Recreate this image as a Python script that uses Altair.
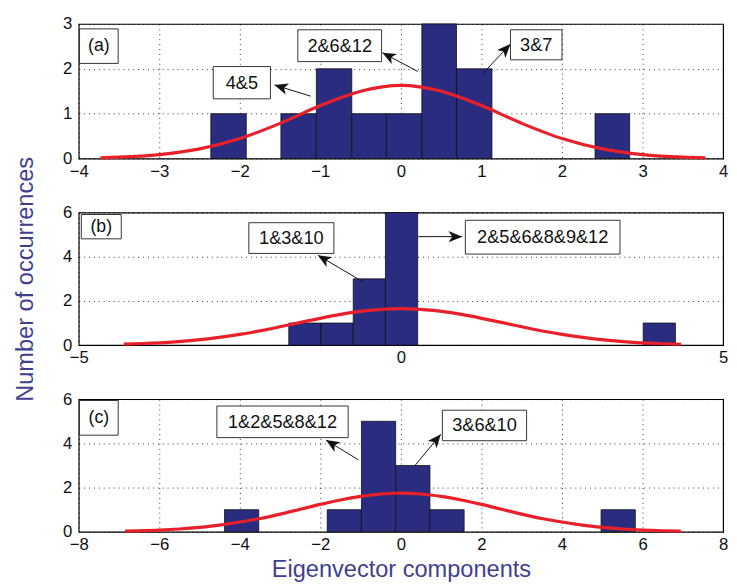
import math
import altair as alt
import pandas as pd

NAVY = "#2A2C80"
RED = "#E8202A"
TITLE_C = "#3F3F90"
FONT = "Liberation Sans"

W = 656
HA = 137
HB = 135

# ---------------- panel (a) ----------------
a_left = [-2.36, -1.49, -1.05, -0.61, -0.18, 0.26, 0.69, 2.41]
a_right = [-1.92, -1.05, -0.61, -0.18, 0.26, 0.69, 1.13, 2.84]
a_count = [1, 1, 2, 1, 1, 3, 2, 1]
a_curve_x = [-3.73, -3.5, -3.0, -2.5, -2.0, -1.5, -1.0, -0.5, 0.0, 0.5, 1.0, 1.5, 2.0, 2.5, 3.0, 3.5, 3.78]
a_curve_y = [0.018, 0.030, 0.087, 0.214, 0.444, 0.784, 1.18, 1.50, 1.63, 1.50, 1.18, 0.784, 0.444, 0.214, 0.087, 0.030, 0.016]
a_labels = ["4&5", "2&6&12", "3&7"]
a_box_x1 = [-2.33, -1.28, 1.36]
a_box_x2 = [-1.62, -0.24, 2.00]
a_box_y1 = [1.33, 2.16, 2.20]
a_box_y2 = [2.05, 2.87, 2.87]
a_tail_x = [-1.12, 0.21, 1.02]
a_tail_y = [1.39, 1.94, 1.90]
a_head_x = [-1.57, -0.23, 1.36]
a_head_y = [1.64, 2.36, 2.55]
a_tag = ["(a)", -3.99, -3.51, 2.12, 2.89]

# ---------------- panel (b) ----------------
b_left = [-1.74, -1.24, -0.74, -0.24, 3.76]
b_right = [-1.24, -0.74, -0.24, 0.26, 4.26]
b_count = [1, 1, 3, 6, 1]
b_curve_x = [-4.3, -4.0, -3.5, -3.0, -2.5, -2.0, -1.5, -1.0, -0.5, 0.0, 0.5, 1.0, 1.5, 2.0, 2.5, 3.0, 3.5, 4.0, 4.35]
b_curve_y = [0.045, 0.073, 0.151, 0.284, 0.487, 0.756, 1.063, 1.357, 1.571, 1.65, 1.571, 1.357, 1.063, 0.756, 0.487, 0.284, 0.151, 0.073, 0.040]
b_labels = ["1&3&10", "2&5&6&8&9&12"]
b_box_x1 = [-2.36, 1.00]
b_box_x2 = [-1.04, 3.40]
b_box_y1 = [4.15, 4.12]
b_box_y2 = [5.54, 5.65]
b_tail_x = [-0.58, 0.27]
b_tail_y = [2.85, 4.91]
b_head_x = [-1.29, 0.95]
b_head_y = [4.07, 4.91]
b_tag = ["(b)", -4.96, -4.34, 4.81, 5.91]

# ---------------- panel (c) ----------------
c_left = [-4.38, -1.83, -0.98, -0.13, 0.72, 4.97]
c_right = [-3.53, -0.98, -0.13, 0.72, 1.57, 5.82]
c_count = [1, 1, 5, 3, 1, 1]
c_curve_x = [-6.85, -6.5, -6.0, -5.5, -5.0, -4.5, -4.0, -3.5, -3.0, -2.5, -2.0, -1.5, -1.0, -0.5, 0.0,
             0.5, 1.0, 1.5, 2.0, 2.5, 3.0, 3.5, 4.0, 4.5, 5.0, 5.5, 6.0, 6.5, 6.95]
c_curve_y = [0.028, 0.045, 0.077, 0.127, 0.20, 0.30, 0.44, 0.60, 0.80, 1.02, 1.24, 1.44, 1.60, 1.71, 1.75,
             1.71, 1.60, 1.44, 1.24, 1.02, 0.80, 0.60, 0.44, 0.30, 0.20, 0.127, 0.077, 0.045, 0.027]
c_labels = ["1&2&5&8&12", "3&6&10"]
c_box_x1 = [-4.57, 1.03]
c_box_x2 = [-1.31, 3.12]
c_box_y1 = [4.26, 4.12]
c_box_y2 = [5.69, 5.50]
c_tail_x = [-1.06, 0.35]
c_tail_y = [3.26, 3.00]
c_head_x = [-1.86, 0.99]
c_head_y = [4.15, 4.41]
c_tag = ["(c)", -7.98, -7.02, 4.37, 5.94]

ARROW = "M0,0L0.8,1.9L0,1.4L-0.8,1.9Z"


def panel(xdom, xticks, ydom, yticks, h, left, right, count, cx, cy,
          labels, bx1, bx2, by1, by2, tx, ty, hx, hy, tag, ytitle=None, xtitle=None):
    sx = W / (xdom[1] - xdom[0])
    sy = h / (ydom[1] - ydom[0])
    xs = alt.Scale(domain=xdom, nice=False, zero=False)
    ys = alt.Scale(domain=ydom, nice=False, zero=False)
    xaxis = alt.Axis(values=xticks, title=xtitle, grid=True, format="d")
    yaxis = alt.Axis(values=yticks, title=ytitle, grid=True, format="d")

    bars_df = pd.DataFrame({"l": left, "r": right, "n": count})
    bars = alt.Chart(bars_df).mark_rect(color=NAVY, stroke="#111", strokeWidth=0.8).encode(
        x=alt.X("l:Q", scale=xs, axis=xaxis), x2="r:Q",
        y=alt.Y("n:Q", scale=ys, axis=yaxis), y2=alt.datum(0))

    curve_df = pd.DataFrame({"x": cx, "y": cy})
    curve = alt.Chart(curve_df).mark_line(color=RED, strokeWidth=3.2, interpolate="monotone").encode(
        x=alt.X("x:Q", scale=xs), y=alt.Y("y:Q", scale=ys))

    ang = []
    for x0, y0, x1, y1 in zip(tx, ty, hx, hy):
        dx = (x1 - x0) * sx
        dy = (y1 - y0) * sy
        ang.append((math.degrees(math.atan2(dx, dy)) + 360) % 360)

    ann_df = pd.DataFrame({"t": labels, "x1": bx1, "x2": bx2, "y1": by1, "y2": by2,
                           "cx": [(a + b) / 2 for a, b in zip(bx1, bx2)],
                           "cy": [(a + b) / 2 for a, b in zip(by1, by2)],
                           "tx": tx, "ty": ty, "hx": hx, "hy": hy, "ang": ang})
    boxes = alt.Chart(ann_df).mark_rect(fill="white", stroke="#333", strokeWidth=1).encode(
        x=alt.X("x1:Q", scale=xs), x2="x2:Q", y=alt.Y("y1:Q", scale=ys), y2="y2:Q")
    texts = alt.Chart(ann_df).mark_text(font=FONT, fontSize=18.5, color="#111").encode(
        x=alt.X("cx:Q", scale=xs), y=alt.Y("cy:Q", scale=ys), text="t:N")
    lines = alt.Chart(ann_df).mark_rule(color="#111", strokeWidth=1).encode(
        x=alt.X("tx:Q", scale=xs), y=alt.Y("ty:Q", scale=ys), x2="hx:Q", y2="hy:Q")
    heads = alt.Chart(ann_df).mark_point(shape=ARROW, filled=True, color="#111", size=210, opacity=1).encode(
        x=alt.X("hx:Q", scale=xs), y=alt.Y("hy:Q", scale=ys), angle=alt.Angle("ang:Q", scale=None))

    tag_df = pd.DataFrame({"t": [tag[0]], "x1": [tag[1]], "x2": [tag[2]], "y1": [tag[3]], "y2": [tag[4]],
                           "cx": [(tag[1] + tag[2]) / 2], "cy": [(tag[3] + tag[4]) / 2]})
    tbox = alt.Chart(tag_df).mark_rect(fill="white", stroke="#333", strokeWidth=1).encode(
        x=alt.X("x1:Q", scale=xs), x2="x2:Q", y=alt.Y("y1:Q", scale=ys), y2="y2:Q")
    ttext = alt.Chart(tag_df).mark_text(font=FONT, fontSize=18, color="#111").encode(
        x=alt.X("cx:Q", scale=xs), y=alt.Y("cy:Q", scale=ys), text="t:N")

    return alt.layer(bars, curve, lines, heads, boxes, texts, tbox, ttext).properties(width=W, height=h)


pa = panel([-4, 4], list(range(-4, 5)), [0, 3], [0, 1, 2, 3], HA, a_left, a_right, a_count,
           a_curve_x, a_curve_y, a_labels, a_box_x1, a_box_x2, a_box_y1, a_box_y2,
           a_tail_x, a_tail_y, a_head_x, a_head_y, a_tag)
pb = panel([-5, 5], [-5, 0, 5], [0, 6], [0, 2, 4, 6], HB, b_left, b_right, b_count,
           b_curve_x, b_curve_y, b_labels, b_box_x1, b_box_x2, b_box_y1, b_box_y2,
           b_tail_x, b_tail_y, b_head_x, b_head_y, b_tag, ytitle="Number of occurrences")
pc = panel([-8, 8], list(range(-8, 9, 2)), [0, 6], [0, 2, 4, 6], HB, c_left, c_right, c_count,
           c_curve_x, c_curve_y, c_labels, c_box_x1, c_box_x2, c_box_y1, c_box_y2,
           c_tail_x, c_tail_y, c_head_x, c_head_y, c_tag, xtitle="Eigenvector components")

chart = alt.vconcat(pa, pb, pc, spacing=55, bounds="flush").properties(
    padding={"left": 4, "top": 1, "right": 0, "bottom": 0}
).configure_view(stroke="#000", strokeWidth=1.2).configure_axis(
    labelFont=FONT, labelFontSize=17, labelColor="#111",
    labelFlush=False, labelOverlap=False,
    ticks=False, domain=False,
    gridColor="#000", gridDash=[1, 4], gridOpacity=0.8, gridWidth=1,
    titleFont=FONT, titleFontSize=24, titleColor=TITLE_C, titleFontWeight="normal",
).configure_axisY(titlePadding=26, labelPadding=7).configure_axisX(titlePadding=6, labelPadding=5)

chart.save("out.html", embed_options={"renderer": "svg", "actions": False})
